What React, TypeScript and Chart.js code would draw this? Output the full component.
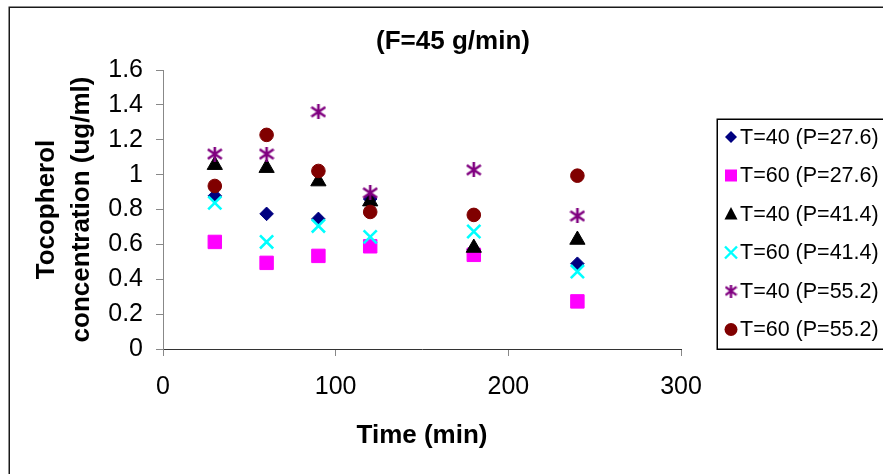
import React, { useEffect, useRef } from 'react';
import { Chart, registerables } from 'chart.js';

Chart.register(...registerables);

const times = [30, 60, 90, 120, 180, 240];
const seriesLabels = [
  'T=40 (P=27.6)',
  'T=60 (P=27.6)',
  'T=40 (P=41.4)',
  'T=60 (P=41.4)',
  'T=40 (P=55.2)',
  'T=60 (P=55.2)',
];
const t40p276 = [0.878, 0.775, 0.746, 0.86, 0.57, 0.489];
const t60p276 = [0.614, 0.494, 0.534, 0.589, 0.54, 0.273];
const t40p414 = [1.055, 1.038, 0.961, 0.846, 0.58, 0.626];
const t60p414 = [0.838, 0.614, 0.706, 0.643, 0.674, 0.444];
const t40p552 = [1.118, 1.118, 1.36, 0.895, 1.027, 0.763];
const t60p552 = [0.935, 1.228, 1.021, 0.786, 0.769, 0.994];
const xTickLabels = ['0', '100', '200', '300'];
const yTickLabels = ['0', '0.2', '0.4', '0.6', '0.8', '1', '1.2', '1.4', '1.6'];
const chartTitle = '(F=45 g/min)';
const xTitle = 'Time (min)';
const yTitle = ['Tocopherol', 'concentration (ug/ml)'];

const FONT = "'Liberation Sans', Arial, Helvetica, sans-serif";
const colors = ['#000080', '#FF00FF', '#000000', '#00FFFF', '#800080', '#800000'];
const kinds = ['diamond', 'square', 'triangle', 'cross', 'asterisk', 'circle'];

function makeAsterisk(w: number, h: number, lw: number): HTMLCanvasElement {
  const c = document.createElement('canvas');
  c.width = w;
  c.height = h;
  const ctx = c.getContext('2d')!;
  ctx.strokeStyle = '#800080';
  ctx.lineWidth = lw;
  ctx.lineCap = 'butt';
  ctx.beginPath();
  ctx.moveTo(w / 2, 0);
  ctx.lineTo(w / 2, h);
  ctx.moveTo(1, h * 0.18);
  ctx.lineTo(w - 1, h * 0.82);
  ctx.moveTo(1, h * 0.82);
  ctx.lineTo(w - 1, h * 0.18);
  ctx.stroke();
  return c;
}

function drawMarker(ctx: CanvasRenderingContext2D, kind: string, color: string, x: number, y: number, img: HTMLCanvasElement) {
  ctx.save();
  ctx.fillStyle = color;
  ctx.strokeStyle = color;
  ctx.beginPath();
  if (kind === 'diamond') {
    ctx.moveTo(x - 6, y);
    ctx.lineTo(x, y - 6);
    ctx.lineTo(x + 6, y);
    ctx.lineTo(x, y + 6);
    ctx.closePath();
    ctx.fill();
  } else if (kind === 'square') {
    ctx.fillRect(x - 6, y - 6, 12, 12);
  } else if (kind === 'triangle') {
    ctx.moveTo(x, y - 7);
    ctx.lineTo(x + 6.5, y + 5.5);
    ctx.lineTo(x - 6.5, y + 5.5);
    ctx.closePath();
    ctx.fill();
  } else if (kind === 'cross') {
    ctx.lineWidth = 2.4;
    ctx.moveTo(x - 6, y - 6);
    ctx.lineTo(x + 6, y + 6);
    ctx.moveTo(x - 6, y + 6);
    ctx.lineTo(x + 6, y - 6);
    ctx.stroke();
  } else if (kind === 'asterisk') {
    ctx.drawImage(img, x - img.width / 2, y - img.height / 2);
  } else {
    ctx.arc(x, y, 6.5, 0, Math.PI * 2);
    ctx.fill();
  }
  ctx.restore();
}

export default function App() {
  const ref = useRef<HTMLCanvasElement | null>(null);

  useEffect(() => {
    if (!ref.current) return;
    const star = makeAsterisk(16, 15, 2.6);
    const starSmall = makeAsterisk(13, 13, 2.4);
    const seriesData = [t40p276, t60p276, t40p414, t60p414, t40p552, t60p552];

    const styles: any[] = [
      { pointStyle: 'rectRot', pointRadius: 6.8 },
      { pointStyle: 'rect', pointRadius: 9.5 },
      { pointStyle: 'triangle', pointRadius: 8.8 },
      { pointStyle: 'crossRot', pointRadius: 9.3, pointBorderWidth: 2.6 },
      { pointStyle: star, pointRadius: 8 },
      { pointStyle: 'circle', pointRadius: 6.8 },
    ];

    const datasets = seriesData.map((vals, i) => ({
      label: seriesLabels[i],
      data: times.map((t, j) => ({ x: t, y: vals[j] })),
      showLine: false,
      backgroundColor: colors[i],
      borderColor: colors[i],
      pointBackgroundColor: colors[i],
      pointBorderColor: colors[i],
      pointBorderWidth: 1,
      order: 5 - i,
      yAxisID: 'y',
      ...styles[i],
    }));

    const framePlugin = {
      id: 'frameAndLegend',
      afterDraw(chart: any) {
        const ctx: CanvasRenderingContext2D = chart.ctx;
        ctx.save();
        ctx.strokeStyle = '#1a1a1a';
        ctx.lineWidth = 1.5;
        ctx.strokeRect(9.25, 7.25, 1200, 1200);
        ctx.strokeStyle = '#000';
        ctx.lineWidth = 1.5;
        ctx.strokeRect(717.25, 119.25, 400, 230);
        ctx.font = `21.5px ${FONT}`;
        ctx.textBaseline = 'middle';
        ctx.textAlign = 'left';
        for (let i = 0; i < seriesLabels.length; i++) {
          const y = 137 + i * 38.5;
          drawMarker(ctx, kinds[i], colors[i], 731, y, starSmall);
          ctx.fillStyle = '#000';
          ctx.fillText(seriesLabels[i], 740, y + 1);
        }
        ctx.restore();
      },
    };

    const chart = new Chart(ref.current, {
      type: 'scatter',
      data: { datasets },
      options: {
        responsive: false,
        animation: false,
        events: [],
        layout: { padding: { left: 23, right: 0, top: 0, bottom: 0 } },
        plugins: {
          legend: { display: false },
          tooltip: { enabled: false },
          title: {
            display: true,
            text: chartTitle,
            color: '#000',
            font: { family: FONT, size: 26, weight: 'bold', lineHeight: 1.2 },
            padding: { top: 26, bottom: 12.8 },
          },
        },
        scales: {
          x: {
            type: 'linear',
            min: 0,
            max: 300,
            position: 'bottom',
            afterFit: (s: any) => { s.height = 125; },
            ticks: {
              stepSize: 100,
              color: '#000',
              padding: 16,
              font: { family: FONT, size: 25 },
              maxRotation: 0,
              callback: (v: any) => xTickLabels[Math.round(Number(v) / 100)] ?? '',
            },
            grid: { display: true, drawOnChartArea: false, drawTicks: true, tickLength: 7, color: '#888' },
            border: { display: true, color: '#333', width: 1 },
            title: {
              display: true,
              text: xTitle,
              color: '#000',
              font: { family: FONT, size: 26, weight: 'bold', lineHeight: 1.2 },
              padding: { top: 0, bottom: 23 },
            },
          },
          y: {
            type: 'linear',
            min: 0,
            max: 1.6,
            position: 'left',
            afterFit: (s: any) => { s.width = 140; },
            ticks: {
              stepSize: 0.2,
              color: '#000',
              padding: 13,
              font: { family: FONT, size: 25 },
              callback: (v: any) => yTickLabels[Math.round(Number(v) / 0.2)] ?? '',
            },
            grid: { display: true, drawOnChartArea: false, drawTicks: true, tickLength: 7, color: '#888' },
            border: { display: true, color: '#888', width: 1 },
            title: {
              display: true,
              text: yTitle,
              color: '#000',
              font: { family: FONT, size: 26, weight: 'bold', lineHeight: 35 / 26 },
              padding: { top: 6.5, bottom: 0 },
            },
          },
          yR: {
            type: 'linear',
            position: 'right',
            display: true,
            afterFit: (s: any) => { s.width = 202; },
            ticks: { display: false },
            grid: { display: false },
            border: { display: false },
          },
        },
      } as any,
      plugins: [framePlugin],
    });

    return () => chart.destroy();
  }, []);

  return (
    <div style={{ position: 'fixed', left: 0, top: 0, width: 883, height: 474, background: '#fff' }}>
      <canvas ref={ref} width={883} height={474} style={{ display: 'block', width: 883, height: 474 }} />
    </div>
  );
}
